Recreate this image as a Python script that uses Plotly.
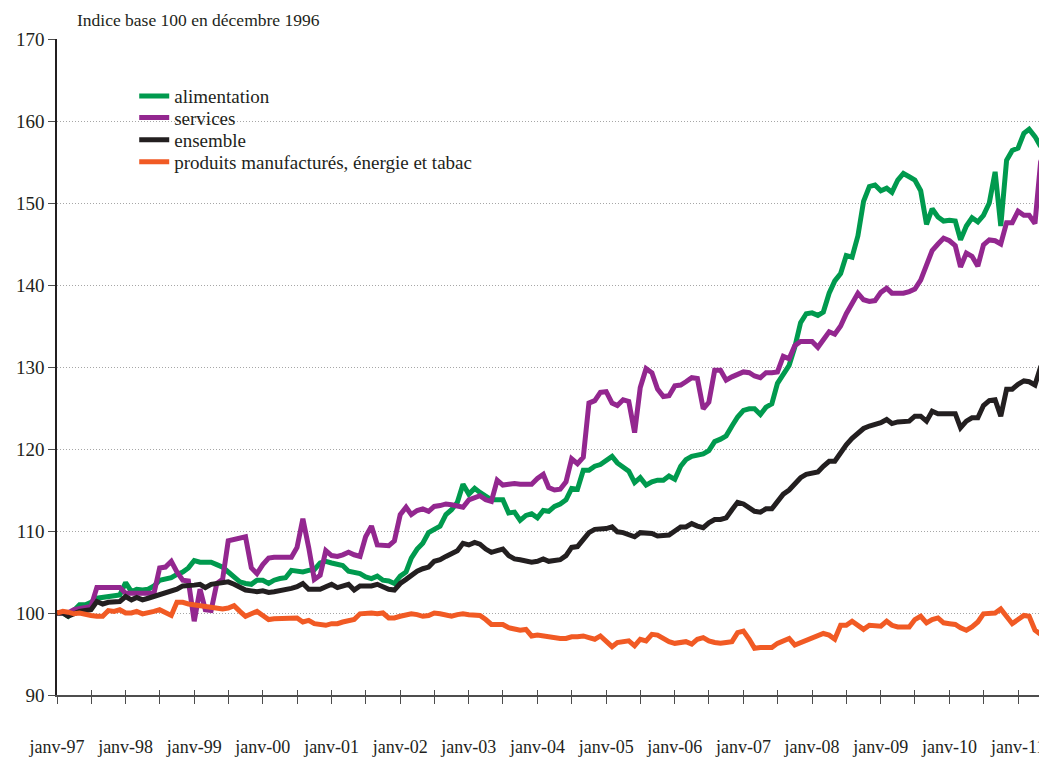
import pandas as pd
import plotly.graph_objects as go

months = pd.date_range("1997-01-01", periods=175, freq="MS")

alimentation = [
100.0,100.0,99.6,100.3,101.0,101.0,101.3,101.8,101.9,102.0,102.1,102.2,
103.7,102.6,102.9,102.8,102.9,103.3,104.0,104.1,104.3,104.7,105.0,105.5,
106.4,106.2,106.2,106.2,105.9,105.6,105.0,104.3,103.8,103.6,103.5,104.0,
104.0,103.6,104.0,104.2,104.3,105.2,105.1,105.0,105.2,105.3,106.1,106.3,
106.1,105.9,105.8,105.1,104.9,104.8,104.4,104.2,104.5,104.0,103.9,103.6,
104.5,105.0,106.7,107.8,108.5,109.8,110.2,110.6,112.0,112.6,113.5,115.7,
114.5,115.2,114.7,114.3,113.8,113.8,113.8,112.2,112.3,111.3,111.9,112.1,
111.6,112.5,112.4,113.0,113.3,113.8,115.2,115.1,117.4,117.4,117.9,118.1,
118.6,119.1,118.3,117.8,117.3,115.9,116.5,115.6,116.0,116.2,116.2,116.7,
116.3,117.9,118.7,119.1,119.2,119.4,119.8,120.9,121.2,121.6,122.8,123.9,
124.7,124.9,124.9,124.2,125.1,125.5,128.0,129.0,130.2,132.4,135.4,136.5,
136.6,136.3,136.7,139.0,140.5,141.4,143.6,143.4,146.0,150.2,152.0,152.2,
151.5,151.8,151.3,152.8,153.6,153.2,152.8,151.5,147.4,149.3,148.3,147.8,
147.9,147.8,145.5,147.2,148.2,147.7,148.5,150.0,153.8,147.2,155.2,156.4,
156.7,158.5,159.0,158.1,156.9,160.0,160.5]

services = [
100.0,100.0,100.0,100.4,100.5,100.6,100.8,103.1,103.1,103.1,103.1,103.1,
102.4,102.4,102.4,102.4,102.4,102.4,105.5,105.6,106.3,105.0,104.0,103.9,
99.0,102.9,100.4,100.3,103.6,104.1,108.8,109.0,109.2,109.3,105.5,104.8,
105.9,106.7,106.8,106.8,106.8,106.8,108.0,111.5,108.0,104.1,104.6,107.6,
107.0,106.9,107.1,107.4,107.1,106.9,109.3,110.6,108.3,108.2,108.2,108.8,
112.0,112.9,112.0,112.5,112.7,112.4,113.0,113.1,113.3,113.2,113.0,112.9,
113.8,114.1,114.3,113.8,113.6,116.2,115.6,115.7,115.8,115.7,115.7,115.7,
116.4,116.9,115.3,115.0,115.1,116.0,118.8,118.2,119.0,125.6,125.9,126.9,
127.0,125.6,125.3,126.0,125.8,122.0,127.5,129.8,129.3,127.3,126.4,126.5,
127.7,127.8,128.2,128.7,128.6,124.9,125.7,129.6,129.6,128.4,128.8,129.1,
129.4,129.3,128.9,128.7,129.3,129.3,129.4,131.3,131.0,132.6,133.1,133.1,
133.1,132.4,133.4,134.3,134.0,135.0,136.5,137.8,139.0,138.2,138.0,138.1,
139.1,139.6,139.0,139.0,139.0,139.2,139.5,140.6,142.6,144.2,145.0,145.7,
145.4,144.8,142.2,143.9,143.5,142.3,144.9,145.5,145.4,145.0,147.6,147.6,
149.0,148.5,148.5,147.5,155.0,156.8,152.0]

ensemble = [
100.0,100.0,99.6,99.9,100.2,100.3,100.4,101.4,101.1,101.3,101.4,101.4,
102.0,101.6,101.9,101.6,101.8,102.0,102.3,102.5,102.6,102.9,103.3,103.3,
103.4,103.5,103.1,103.5,103.6,103.6,103.8,103.5,103.2,102.8,102.7,102.6,
102.7,102.5,102.6,102.7,102.8,103.0,103.2,103.6,102.9,102.9,102.9,103.2,
103.5,103.1,103.3,103.5,102.8,103.3,103.3,103.3,103.5,103.2,102.9,102.8,
103.6,104.1,104.6,105.1,105.4,105.6,106.3,106.5,106.9,107.3,107.6,108.5,
108.3,108.6,108.4,107.8,107.4,107.6,107.8,107.0,106.6,106.5,106.3,106.2,
106.3,106.6,106.3,106.4,106.5,107.0,108.0,108.1,109.0,109.8,110.2,110.2,
110.3,110.5,109.9,109.8,109.6,109.3,109.8,109.8,109.7,109.4,109.4,109.5,
110.0,110.5,110.5,110.9,110.6,110.4,111.0,111.4,111.4,111.6,112.6,113.5,
113.3,112.8,112.4,112.3,112.7,112.7,113.7,114.5,115.0,115.8,116.5,116.9,
117.0,117.2,117.9,118.5,118.5,119.6,120.5,121.3,121.9,122.5,122.8,123.0,
123.2,123.6,123.1,123.3,123.4,123.4,124.0,124.0,123.4,124.6,124.3,124.3,
124.3,124.3,122.6,123.4,123.8,123.8,125.3,125.9,126.0,124.0,127.3,127.3,
127.9,128.3,128.2,127.8,130.0,131.4,132.0]

produits = [
100.0,100.2,100.1,99.9,100.0,99.8,99.7,99.6,99.6,100.3,100.2,100.4,
100.0,100.0,100.2,99.9,100.0,100.2,100.4,100.0,99.7,101.3,101.3,101.1,
101.0,100.9,100.8,100.7,100.6,100.5,100.6,100.9,100.2,99.6,99.9,100.2,
99.7,99.2,99.3,99.3,99.3,99.3,99.4,98.9,99.1,98.7,98.6,98.5,
98.7,98.7,98.9,99.1,99.2,99.9,100.0,100.0,99.9,100.0,99.4,99.4,
99.6,99.7,99.9,99.8,99.6,99.7,100.0,99.9,99.8,99.6,99.8,99.9,
99.8,99.8,99.7,99.2,98.6,98.6,98.6,98.2,98.0,97.9,98.0,97.2,
97.3,97.2,97.0,96.9,96.9,96.9,97.1,97.1,97.2,97.0,96.8,97.2,
96.6,95.9,96.4,96.5,96.6,96.0,96.8,96.6,97.4,97.3,96.8,96.5,
96.3,96.4,96.5,96.2,96.8,97.0,96.6,96.4,96.3,96.4,96.5,97.6,
97.8,96.8,95.7,95.8,95.8,95.8,96.3,96.6,96.9,96.1,96.4,96.7,
96.9,97.2,97.5,97.3,96.8,98.5,98.5,99.0,98.5,98.0,98.5,98.5,
98.4,99.0,98.5,98.3,98.3,98.3,99.2,99.6,98.8,99.2,99.4,98.8,
98.7,98.6,98.2,97.9,98.3,98.9,99.9,99.9,100.0,100.5,99.6,98.7,
99.2,99.7,99.6,97.9,97.4,98.5,98.8]

series_names = ["alimentation", "services", "ensemble",
                "produits manufacturés, énergie et tabac"]
series_values = [alimentation, services, ensemble, produits]
series_colors = ["#009A4E", "#93278F", "#231F20", "#F15A24"]

tick_dates = pd.date_range("1997-01-01", "2011-01-01", freq="6MS")
tick_text = [("janv-" + d.strftime("%y")) if d.month == 1 else "" for d in tick_dates]

FONT = "'Liberation Serif', 'DejaVu Serif', 'Times New Roman', serif"
legend_ids = ["legend", "legend2", "legend3", "legend4"]
legend_y = [0.913, 0.880, 0.846, 0.8125]

fig = go.Figure()
for name, vals, col, lg in zip(series_names, series_values, series_colors, legend_ids):
    fig.add_trace(go.Scatter(x=months, y=vals, mode="lines", name=name, legend=lg,
                             line=dict(color=col, width=5)))

# invisible trace on an overlaid axis to draw the inward half of tick marks
fig.add_trace(go.Scatter(x=months, y=ensemble, xaxis="x2", mode="lines",
                         line=dict(width=0), opacity=0, showlegend=False,
                         hoverinfo="skip"))

legend_common = dict(x=0.078, xanchor="left", yanchor="middle",
                     bgcolor="rgba(0,0,0,0)",
                     font=dict(family=FONT, size=19, color="#231F20"), itemwidth=30)

# the page body adds an 8 px margin, so the figure is sized to the visible area
xr = ["1997-01-01", "2011-06-04"]
fig.update_layout(
    width=1039, height=750,
    margin=dict(l=49, r=0, t=31, b=63, autoexpand=False),
    paper_bgcolor="white", plot_bgcolor="white",
    font=dict(family=FONT, size=18, color="#231F20"),
    showlegend=True,
    xaxis=dict(range=xr, tickvals=tick_dates, ticktext=tick_text, automargin=False,
               showgrid=False, zeroline=False, showline=True, linecolor="#4d4d4d",
               linewidth=1.5, ticks="outside", ticklen=7, tickwidth=1.2,
               tickcolor="#4d4d4d", ticklabelstandoff=28,
               tickfont=dict(family=FONT, size=18, color="#231F20")),
    xaxis2=dict(range=xr, overlaying="x", anchor="y", side="bottom", automargin=False,
                tickvals=tick_dates, showticklabels=False, showgrid=False,
                zeroline=False, showline=False, ticks="inside", ticklen=5,
                tickwidth=1.2, tickcolor="#4d4d4d"),
    yaxis=dict(range=[90, 170], tickvals=[90, 100, 110, 120, 130, 140, 150, 160, 170],
               automargin=False,
               showgrid=True, gridcolor="#a6a6a6", griddash="1px,2px", gridwidth=1,
               zeroline=False, showline=True, linecolor="#231F20", linewidth=1.5,
               ticks="outside", ticklen=7, tickwidth=1.2, tickcolor="#4d4d4d",
               tickfont=dict(family=FONT, size=19, color="#231F20")),
    annotations=[dict(text="Indice base 100 en décembre 1996", xref="paper", yref="paper",
                      x=0.018, y=1.0, xanchor="left", yanchor="bottom", yshift=7,
                      showarrow=False, font=dict(family=FONT, size=17.5, color="#231F20"))],
)
for lg, ly in zip(legend_ids, legend_y):
    fig.update_layout({lg: dict(legend_common, y=ly)})

fig.write_html("out.html")
